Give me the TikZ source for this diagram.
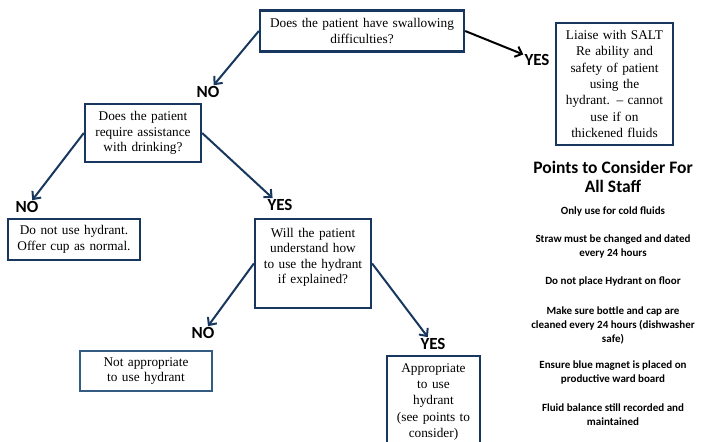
\documentclass[tikz,border=0pt]{standalone}
\usepackage{fontspec}
\setmainfont{Liberation Serif}
\newfontfamily\calibri{Carlito}
\usetikzlibrary{arrows.meta}
\definecolor{navy}{RGB}{23,55,94}
\definecolor{lightnavy}{RGB}{52,92,130}
\tikzset{
	qbox/.style={draw=navy, line width=2.3pt, align=center, inner sep=1pt,
		font=\fontsize{13.3}{15.5}\selectfont},
	answer/.style={font=\calibri\bfseries\fontsize{17}{17}\selectfont, inner sep=1pt},
	arr/.style={draw=navy, line width=2pt, -{Straight Barb[length=6pt,width=11pt,line width=2pt]}},
	point/.style={font=\calibri\bfseries\fontsize{11}{14}\selectfont, align=center, inner sep=0pt}
}

\begin{document}
\begin{tikzpicture}[x=1pt,y=-1pt]
		%%%%% START %%%%%
		\useasboundingbox (0,0) rectangle (705,442);
		
		% questions and outcomes
		\node[qbox, minimum width=204, minimum height=41, text width=200] (swallow) at (362, 31) {Does the patient have swallowing\\difficulties?};
		\node[qbox, minimum width=117, minimum height=122, text width=114, font=\fontsize{13.3}{16.4}\selectfont] (salt) at (614.5, 84) {Liaise with SALT\\Re ability and\\safety of patient\\using the\\hydrant. -- cannot\\use if on\\thickened fluids};
		\node[qbox, minimum width=116, minimum height=58, text width=112] (assist) at (143, 133) {Does the patient\\require assistance\\with drinking?};
		\node[qbox, minimum width=132, minimum height=41, text width=128] (cup) at (74, 239.5) {Do not use hydrant.\\Offer cup as normal.};
		\node[qbox, minimum width=116, minimum height=89, text width=112] (understand) at (313, 263.5) {Will the patient\\understand how\\to use the hydrant\\if explained?\\\mbox{}};
		\node[qbox, draw=lightnavy, minimum width=132, minimum height=40, text width=128] (notapp) at (146, 371) {Not appropriate\\to use hydrant};
		\node[qbox, minimum width=93, minimum height=92, text width=90, font=\fontsize{13.3}{16.4}\selectfont] (app) at (433.5, 402) {Appropriate\\to use\\hydrant\\(see points to\\consider)};
		
		% yes / no
		\node[answer] (yes1) at (537, 60) {YES};
		\node[answer] (no1) at (208, 92) {NO};
		\node[answer] (no2) at (27, 207) {NO};
		\node[answer] (yes2) at (280, 205) {YES};
		\node[answer] (no3) at (203, 333) {NO};
		\node[answer] (yes3) at (433, 344) {YES};
		
		\draw[arr, draw=black] (swallow.east) -- (yes1);
		\draw[arr] (swallow.west) -- (no1);
		\draw[arr] (assist.west) -- (no2);
		\draw[arr] (assist.east) -- (yes2);
		\draw[arr] (understand.west) -- (no3);
		\draw[arr] (understand.east) -- (yes3);
		
		% points to consider
		\node[point, font=\calibri\bfseries\fontsize{17.5}{19}\selectfont] (title) at (613, 176.5) {Points to Consider For\\All Staff};
		\node[point] (p1) at (613, 212) {Only use for cold fluids};
		\node[point] (p2) at (613, 247) {Straw must be changed and dated\\every 24 hours};
		\node[point] (p3) at (613, 282) {Do not place Hydrant on floor};
		\node[point] (p4) at (613, 325) {Make sure bottle and cap are\\cleaned every 24 hours (dishwasher\\safe)};
		\node[point] (p5) at (613, 373) {Ensure blue magnet is placed on\\productive ward board};
		\node[point] (p6) at (613, 415) {Fluid balance still recorded and\\maintained};
		
		%%%%% END %%%%%
	\end{tikzpicture}
\end{document}
